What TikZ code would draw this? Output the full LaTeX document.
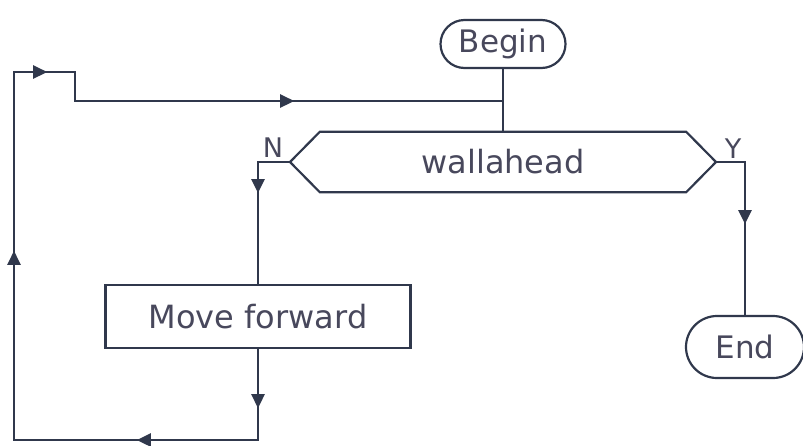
\documentclass[tikz,border=0pt]{standalone}
\usepackage{fontspec}
\setmainfont{DejaVu Sans}
\usetikzlibrary{arrows.meta,decorations.markings,shapes.misc}
\definecolor{ln}{RGB}{48,56,76}
\definecolor{tx}{RGB}{72,72,92}
\tikzset{
  term/.style={rounded rectangle, draw=ln, line width=2.2pt, text=tx, font=\fontsize{31}{36}\selectfont, inner sep=0pt},
  proc/.style={rectangle, draw=ln, line width=2.4pt, text=tx, font=\fontsize{32}{36}\selectfont, inner sep=0pt},
  conn/.style={draw=ln, line width=2.6pt},
  lbl/.style={text=tx, font=\fontsize{27}{30}\selectfont, inner sep=0pt},
  tipat/.style={postaction={decorate, decoration={markings, mark=at position #1 with {\arrow[ln]{Triangle[length=14pt,width=13pt]}}}}}
}
\begin{document}
\begin{tikzpicture}[x=1pt,y=-1pt]
\useasboundingbox (0,0) rectangle (803,445);
% nodes
\node[term, minimum width=125pt, minimum height=48pt] (begin) at (503,44) {Begin};
\node[inner sep=0pt, minimum width=366pt, minimum height=60pt, text=tx, font=\fontsize{32}{36}\selectfont] (dec) at (503,162) {wallahead};
\coordinate (decL) at (290,162);
\coordinate (decR) at (716,162);
\draw[ln, line width=2.2pt, line join=miter] (decL) -- (dec.north west) -- (dec.north east) -- (decR) -- (dec.south east) -- (dec.south west) -- cycle;
\node[proc, minimum width=305pt, minimum height=63pt] (mf) at (258,316.5) {Move forward};
\node[term, minimum width=118pt, minimum height=62pt] (end) at (745,347) {End};
\node[lbl] (nl) at (273,148) {N};
\node[lbl] (yl) at (733,149) {Y};
% connector coordinates
\coordinate (jn) at (503,101);
\coordinate (nc) at (258,162);
\coordinate (yc) at (745,162);
\coordinate (bl) at (258,440);
\coordinate (blc) at (14,440);
\coordinate (tlc) at (14,72);
\coordinate (tm) at (75,72);
\coordinate (tj) at (75,101);
% connectors
\draw[conn] (begin.south) -- (dec.north);
\draw[conn, line join=miter, tipat=63pt] (decL) -- (nc) -- (mf.north);
\draw[conn, line join=miter, tipat=91pt] (decR) -- (yc) -- (end.north);
\draw[conn, line join=miter,
  postaction={decorate, decoration={markings,
    mark=at position 59pt with {\arrow[ln]{Triangle[length=14pt,width=13pt]}},
    mark=at position 212pt with {\arrow[ln]{Triangle[length=14pt,width=13pt]}},
    mark=at position 524pt with {\arrow[ln]{Triangle[length=14pt,width=13pt]}},
    mark=at position 736pt with {\arrow[ln]{Triangle[length=14pt,width=13pt]}},
    mark=at position 1012pt with {\arrow[ln]{Triangle[length=14pt,width=13pt]}}}}]
  (mf.south) -- (bl) -- (blc) -- (tlc) -- (tm) -- (tj) -- (jn);
\end{tikzpicture}
\end{document}
